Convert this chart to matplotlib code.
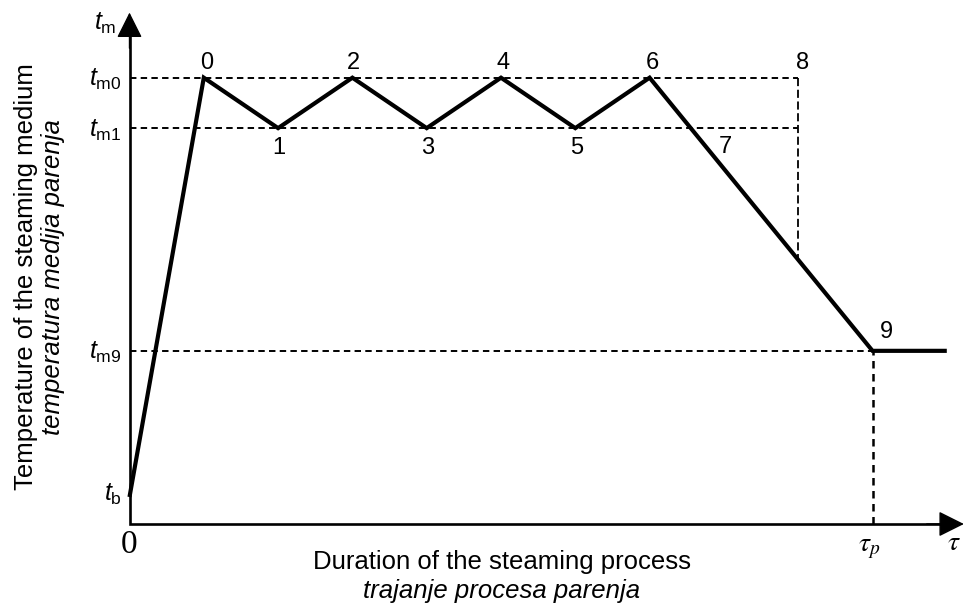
"""Steaming regime diagram: medium temperature vs. duration of steaming."""

import numpy as np
import matplotlib

matplotlib.use("Agg")
import matplotlib.pyplot as plt

plt.rcParams["font.family"] = "Liberation Sans"
plt.rcParams["mathtext.fontset"] = "custom"
plt.rcParams["mathtext.rm"] = "Liberation Sans"
plt.rcParams["mathtext.it"] = "Liberation Sans:italic"

# Characteristic temperatures (relative units, t_m0 = 100)
t_b = 6.05
t_m0 = 100.0
t_m1 = 88.7
t_m9 = 38.8

# Regime curve: heating, oscillation 0..6, cooling down to 9, holding
tau_curve = [0, 1, 2, 3, 4, 5, 6, 7, 10, 11]
temp_curve = [t_b, t_m0, t_m1, t_m0, t_m1, t_m0, t_m1, t_m0, t_m9, t_m9]

tau_8 = 9.0   # point 8 (end of constant-temperature regime)
tau_p = 10.0  # end of the steaming process
tau_7 = 7.8   # where label 7 sits on the cooling branch

point_names = ["0", "1", "2", "3", "4", "5", "6", "7", "8", "9"]
point_tau = [1, 2, 3, 4, 5, 6, 7, tau_7, tau_8, tau_p]
point_temp = [t_m0, t_m1, t_m0, t_m1, t_m0, t_m1, t_m0,
              np.interp(tau_7, tau_curve, temp_curve), t_m0, t_m9]
# label offsets in pixels
point_off = [(3, 15), (1, -20), (1, 15), (1, -20), (2, 15), (1, -20), (3, 15),
             (16, 4), (4, 15), (14, 19)]

W, H = 965, 604
fig = plt.figure(figsize=(W / 100, H / 100), dpi=100)
ax = fig.add_axes([0, 0, 1, 1])
ax.set_xlim(-129.5 / 74.3, (W - 129.5) / 74.3)
ax.set_ylim((524 - H) / 4.463, 524 / 4.463)
ax.axis("off")

dash_kw = dict(color="black", lw=1.4, dashes=(3.3, 2.2))

# horizontal guide lines
ax.plot([0, tau_8], [t_m0, t_m0], **dash_kw)
ax.plot([0, tau_8], [t_m1, t_m1], **dash_kw)
ax.plot([0, tau_p], [t_m9, t_m9], **dash_kw)
# vertical guide lines
ax.plot([tau_8, tau_8], [t_m0, np.interp(tau_8, tau_curve, temp_curve)],
        color="black", lw=1.3, dashes=(4.5, 2.0))
ax.plot([tau_p, tau_p], [0, t_m9], color="black", lw=1.8, dashes=(3.0, 2.2))

# regime curve
ax.plot(tau_curve, temp_curve, color="black", lw=3.0, solid_joinstyle="miter",
        solid_capstyle="butt")

# axes with arrows
x_tip, y_tip = 11.23, 114.6
ax.plot([0, 0, x_tip - 0.2], [y_tip - 4, 0, 0], color="black", lw=1.9,
        solid_joinstyle="miter")
arrow_kw = dict(arrowstyle="-|>,head_length=0.8,head_width=0.4",
                color="black", lw=1.0, mutation_scale=20, shrinkA=0, shrinkB=0)
ax.annotate("", xy=(x_tip, 0), xytext=(x_tip - 0.5, 0), arrowprops=arrow_kw)
ax.annotate("", xy=(0, y_tip), xytext=(0, y_tip - 8), arrowprops=arrow_kw)

# point numbers
for name, x, y, off in zip(point_names, point_tau, point_temp, point_off):
    ax.annotate(name, xy=(x, y), xytext=off, textcoords="offset pixels",
                ha="center", va="center", fontsize=17)

# temperature labels on the ordinate
for lab, y, dy in [(r"$t_\mathrm{m0}$", t_m0, -2), (r"$t_\mathrm{m1}$", t_m1, -2),
                   (r"$t_\mathrm{m9}$", t_m9, -2), (r"$t_\mathrm{b}$", t_b, 3)]:
    ax.annotate(lab, xy=(0, y), xytext=(-8, dy), textcoords="offset pixels",
                ha="right", va="center", fontsize=18)
ax.annotate(r"$t_\mathrm{m}$", xy=(0, y_tip), xytext=(-13, -11),
            textcoords="offset pixels", ha="right", va="center", fontsize=18)

# abscissa labels
ax.annotate("0", xy=(0, 0), xytext=(0, -21), textcoords="offset pixels",
            ha="center", va="center", fontsize=24, family="Liberation Serif")
ax.annotate(r"$\tau_p$", xy=(tau_p, 0), xytext=(-3, -24), textcoords="offset pixels",
            ha="center", va="center", fontsize=20, math_fontfamily="stix")
ax.annotate(r"$\tau$", xy=(x_tip, 0), xytext=(-10, -19), textcoords="offset pixels",
            ha="center", va="center", fontsize=20, math_fontfamily="stix")

# axis titles
fig.text(502 / W, 1 - 569 / H, "Duration of the steaming process",
         ha="center", va="baseline", fontsize=18.5)
fig.text(502 / W, 1 - 598 / H, "trajanje procesa parenja",
         ha="center", va="baseline", fontsize=18.5, style="italic")
fig.text(33 / W, 1 - 277 / H, "Temperature of the steaming medium",
         ha="center", va="baseline", rotation=90, rotation_mode="anchor",
         fontsize=18.5)
fig.text(60 / W, 1 - 277 / H, "temperatura medija parenja",
         ha="center", va="baseline", rotation=90, rotation_mode="anchor",
         fontsize=18.5, style="italic")

fig.savefig("out.png", dpi=100, facecolor="white")
plt.close(fig)
